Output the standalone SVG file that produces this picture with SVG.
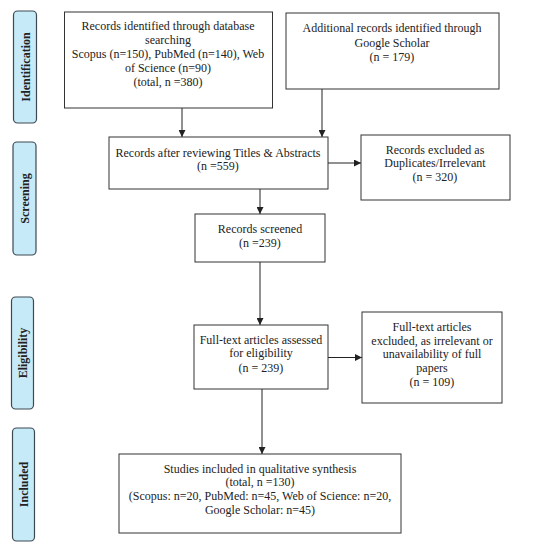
<svg xmlns="http://www.w3.org/2000/svg" width="549" height="550" viewBox="0 0 549 550">
<defs>
<style>
.box{fill:#fff;stroke:#333;stroke-width:1}
.side{fill:#C6EAF8;stroke:#3d4a52;stroke-width:1.2}
.t{font-family:"Liberation Serif","DejaVu Serif",serif;font-size:12px;fill:#222;text-anchor:middle}
.s{font-family:"Liberation Serif","DejaVu Serif",serif;font-size:12px;font-weight:bold;fill:#222;text-anchor:middle}
.c{stroke:#222;stroke-width:1;fill:none;marker-end:url(#ah)}
</style>
<marker id="ah" viewBox="0 0 10 10" refX="10" refY="5" markerWidth="7" markerHeight="7" orient="auto" markerUnits="userSpaceOnUse">
<path d="M0,0 L10,5 L0,10 z" fill="#222"/>
</marker>
</defs>
<rect width="549" height="550" fill="#fff"/>
<g id="lab-identification"><rect class="side" x="13.5" y="11" width="23" height="112" rx="4"/><text class="s" transform="translate(29.5,67) rotate(-90)">Identification</text></g>
<g id="lab-screening"><rect class="side" x="13" y="142" width="23" height="113" rx="4"/><text class="s" transform="translate(29,198.5) rotate(-90)">Screening</text></g>
<g id="lab-eligibility"><rect class="side" x="11.5" y="297" width="22" height="112" rx="4"/><text class="s" transform="translate(27,353) rotate(-90)">Eligibility</text></g>
<g id="lab-included"><rect class="side" x="12.5" y="428" width="22" height="113" rx="4"/><text class="s" transform="translate(28,484.5) rotate(-90)">Included</text></g>
<g id="connectors">
<path class="c" d="M182,108 V137"/>
<path class="c" d="M322,89 V137"/>
<path class="c" d="M328,163 H361"/>
<path class="c" d="M260,189 V214"/>
<path class="c" d="M260,262 V325"/>
<path class="c" d="M328,357.5 H362"/>
<path class="c" d="M262,389 V454"/>
</g>
<g id="n1"><rect class="box" x="64.5" y="12" width="208" height="96"/>
<text class="t" x="168" y="30">Records identified through database</text>
<text class="t" x="168" y="44">searching</text>
<text class="t" x="168" y="58">Scopus (n=150), PubMed (n=140), Web</text>
<text class="t" x="168" y="72">of Science (n=90)</text>
<text class="t" x="168" y="86">(total, n =380)</text></g>
<g id="n2"><rect class="box" x="286" y="13" width="213" height="76"/>
<text class="t" x="392" y="32">Additional  records identified through</text>
<text class="t" x="392" y="47">Google Scholar</text>
<text class="t" x="392" y="61">(n = 179)</text></g>
<g id="n3"><rect class="box" x="109" y="137" width="219" height="52"/>
<text class="t" x="218" y="157">Records after reviewing  Titles &amp; Abstracts</text>
<text class="t" x="218" y="170">(n =559)</text></g>
<g id="n4"><rect class="box" x="361" y="135" width="149" height="65"/>
<text class="t" x="435" y="154">Records excluded as</text>
<text class="t" x="435" y="167">Duplicates/Irrelevant</text>
<text class="t" x="435" y="181">(n = 320)</text></g>
<g id="n5"><rect class="box" x="195" y="214" width="130" height="48"/>
<text class="t" x="260" y="233">Records screened</text>
<text class="t" x="260" y="247">(n =239)</text></g>
<g id="n6"><rect class="box" x="194" y="325" width="134" height="64"/>
<text class="t" x="261" y="344">Full-text articles assessed</text>
<text class="t" x="261" y="357">for eligibility</text>
<text class="t" x="261" y="372">(n = 239)</text></g>
<g id="n7"><rect class="box" x="362" y="312" width="140" height="91"/>
<text class="t" x="432" y="331">Full-text articles</text>
<text class="t" x="432" y="345">excluded, as irrelevant or</text>
<text class="t" x="432" y="358">unavailability of full</text>
<text class="t" x="432" y="372">papers</text>
<text class="t" x="432" y="386">(n = 109)</text></g>
<g id="n8"><rect class="box" x="119" y="454" width="282" height="79"/>
<text class="t" x="260" y="473">Studies included in qualitative synthesis</text>
<text class="t" x="260" y="486">(total, n =130)</text>
<text class="t" x="260" y="500">(Scopus: n=20, PubMed: n=45, Web of Science: n=20,</text>
<text class="t" x="260" y="514">Google Scholar: n=45)</text></g>
</svg>
